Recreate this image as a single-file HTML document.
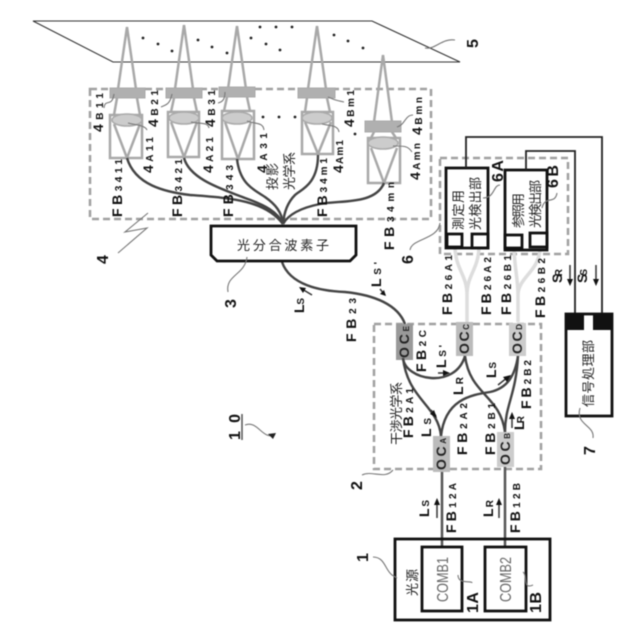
<!DOCTYPE html>
<html><head><meta charset="utf-8"><style>
html,body{margin:0;padding:0;background:#fff}
svg{display:block;filter:blur(0.4px)}
text{font-family:"Liberation Sans","Noto Sans CJK JP",sans-serif;fill:#222}
.l{font-size:14px;font-weight:bold;fill:#111}
.l tspan{font-size:10px;font-weight:bold}
.b{font-size:16px;font-weight:bold;fill:#111}
.j{font-size:13px;fill:#222}
.oc{font-size:14px;font-weight:bold;fill:#222}
.oc tspan{font-size:8px}
.lead{fill:none;stroke:#777;stroke-width:1.1}
.dash{fill:none;stroke:#a0a0a0;stroke-width:2.5;stroke-dasharray:7 4}
.opt{fill:none;stroke:#a8a8a8;stroke-width:2.5}
.fib{fill:none;stroke:#444;stroke-width:2.4}
.pale{fill:none;stroke:#ddd;stroke-width:3.5}
.k{fill:none;stroke:#111;stroke-width:2.8}
.w{fill:none;stroke:#333;stroke-width:1.5}
</style></head><body>
<svg width="640" height="640" viewBox="0 0 640 640" xmlns="http://www.w3.org/2000/svg">
<rect width="640" height="640" fill="#fff"/>
<polygon points="33,21 372,21 460,62 113,62" fill="none" stroke="#333" stroke-width="1.1"/>
<g fill="#222">
<circle cx="143" cy="38" r="1.4"/><circle cx="158" cy="44" r="1.4"/><circle cx="172" cy="51" r="1.4"/><circle cx="198" cy="40" r="1.4"/><circle cx="212" cy="47" r="1.4"/><circle cx="227" cy="53" r="1.4"/><circle cx="251" cy="38" r="1.4"/><circle cx="266" cy="44" r="1.4"/><circle cx="280" cy="50" r="1.4"/><circle cx="260" cy="27" r="1.4"/><circle cx="276" cy="27" r="1.4"/><circle cx="292" cy="27" r="1.4"/><circle cx="334" cy="35" r="1.4"/><circle cx="348" cy="41" r="1.4"/><circle cx="363" cy="48" r="1.4"/><circle cx="263" cy="117" r="1.4"/><circle cx="279" cy="117" r="1.4"/><circle cx="295" cy="117" r="1.4"/><circle cx="355" cy="134" r="1.4"/>
</g>
<rect class="dash" x="90" y="89" width="341" height="130"/>
<rect class="dash" x="374" y="324" width="167" height="145"/>
<rect class="dash" x="440" y="158" width="128" height="96"/>

<!-- lens columns -->
<g class="opt">
<path d="M117,96 L127,27 L137,96"/><path d="M117,98 L114,115M137,98 L140,115"/>
<rect x="110" y="115" width="32" height="43"/><path d="M114,124 L127,158 L140,124"/>
<path d="M174,96 L184,25 L194,96"/><path d="M174,98 L171,112M194,98 L197,112"/>
<rect x="168" y="112" width="31" height="45"/><path d="M171,122 L184,157 L197,122"/>
<path d="M227,96 L237,26 L247,96"/><path d="M227,97 L224,111M247,97 L250,111"/>
<rect x="222" y="111" width="32" height="48"/><path d="M225,122 L238,159 L251,122"/>
<path d="M307,96 L317,26 L327,96"/><path d="M307,98 L305,112M327,98 L330,112"/>
<rect x="302" y="112" width="31" height="42"/><path d="M305,122 L318,154 L331,122"/>
<path d="M374,122 L383,55 L392,122"/><path d="M374,132 L371,138M392,132 L396,138"/>
<rect x="368" y="138" width="32" height="45"/><path d="M371,148 L384,183 L397,148"/>
</g>
<g fill="#b0b0b0" stroke="#aaa">
<rect x="110" y="88" width="35" height="10"/><rect x="166" y="88" width="36" height="10"/><rect x="219" y="87" width="36" height="10"/><rect x="298" y="88" width="37" height="10"/><rect x="365" y="121" width="36" height="11"/>
</g>
<g fill="#ccc" stroke="#aaa" stroke-width="1.5">
<ellipse cx="127" cy="120" rx="15" ry="6"/><ellipse cx="184" cy="118" rx="15" ry="6"/><ellipse cx="237" cy="118" rx="15" ry="6"/><ellipse cx="317" cy="118" rx="15" ry="6"/><ellipse cx="383" cy="143" rx="15" ry="6"/>
</g>

<!-- fibers to splitter -->
<g class="fib">
<path d="M127,158 C135,185 165,192 190,195 C230,198 265,200 283,224"/>
<path d="M184,158 C190,180 225,190 245,198 C265,205 278,212 283,224"/>
<path d="M237,159 C240,185 255,190 265,197 C275,204 282,212 283,224"/>
<path d="M318,155 C318,185 300,190 295,195 C288,202 284,212 283,224"/>
<path d="M384,183 C375,205 340,200 320,204 C300,208 288,215 283,224"/>
<path d="M282,262 C290,285 320,291 345,292 C375,295 398,305 405,324"/>
</g>
<path class="k" d="M211,226 H356 V255 L350,261 H217 L211,255 Z" fill="#fff"/>
<text class="j" x="237" y="250" textLength="92">光分合波素子</text>

<!-- couplers -->
<rect x="396" y="324" width="17" height="36" fill="#999"/>
<rect x="456" y="322" width="17" height="34" fill="#bbb"/>
<rect x="509" y="323" width="17" height="33" fill="#ccc"/>
<rect x="433" y="436" width="17" height="36" fill="#bbb"/>
<rect x="497" y="432" width="17" height="35" fill="#ccc"/>
<g class="fib">
<path d="M441,436 C438,405 408,400 403,358"/>
<path d="M441,436 C445,400 470,395 490,392 C508,388 515,375 518,356"/>
<path d="M403,358 C405,380 455,390 465,356"/>
<path d="M505,432 C500,395 470,395 465,356"/>
<path d="M505,432 C505,405 516,395 518,356"/>
</g>
<path d="M442,472 V547M505,467 V547" fill="none" stroke="#555" stroke-width="2.5"/>

<!-- source -->
<rect class="k" x="395" y="539" width="155" height="81"/>
<rect class="k" x="422" y="547" width="40" height="64" fill="#fff"/>
<rect class="k" x="485" y="547" width="41" height="64" fill="#fff"/>
<text transform="translate(448,602) rotate(-90)" font-size="16" textLength="45" lengthAdjust="spacingAndGlyphs" style="fill:#666">COMB1</text>
<text transform="translate(511,602) rotate(-90)" font-size="16" textLength="45" lengthAdjust="spacingAndGlyphs" style="fill:#666">COMB2</text>
<text class="j" transform="translate(417,596) rotate(-90)" textLength="27">光源</text>

<!-- detectors -->
<path class="pale" d="M455,248 C456,270 467,275 467,295 V322M479,248 C478,270 467,275 467,295"/>
<path class="pale" d="M514,250 C515,270 518,280 518,295 V322M540,250 C538,272 518,278 518,295"/>
<rect class="k" x="446" y="168" width="42" height="80"/>
<rect class="k" x="447" y="234" width="15" height="13"/><rect class="k" x="472" y="234" width="16" height="14"/>
<rect class="k" x="505" y="170" width="42" height="80"/>
<rect class="k" x="505" y="235" width="17" height="13"/><rect class="k" x="530" y="233" width="17" height="14"/>
<path d="M466,168 V137 H602 V315M526,170 V151 H575 V315" fill="none" stroke="#222" stroke-width="1.8"/>
<text class="j" transform="translate(463,230) rotate(-90)" textLength="40">測定用</text>
<text class="j" transform="translate(480,230) rotate(-90)" textLength="53">光検出部</text>
<text class="j" transform="translate(523,228) rotate(-90)" textLength="35">参照用</text>
<text class="j" transform="translate(540,228) rotate(-90)" textLength="48">光検出部</text>

<!-- signal processor -->
<rect class="k" x="566" y="314" width="46" height="102"/>
<rect x="566" y="314" width="18" height="16" fill="#111"/><rect x="593" y="314" width="19" height="16" fill="#111"/>
<text class="j" transform="translate(593,407) rotate(-90)" textLength="67">信号処理部</text>

<!-- leaders -->
<g class="lead">
<path d="M425,48 C435,50 442,38 455,40"/>
<path d="M118,253 L147,228 L125,232 L148,213"/>
<path d="M247,257 C245,275 225,275 228,292"/>
<path d="M410,250 C412,238 438,240 440,223"/>
<path d="M393,470 C385,480 372,470 362,475"/>
<path d="M373,557 C385,557 385,570 392,575 L397,578"/>
<path d="M458,575 C458,585 472,580 472,583"/>
<path d="M523,572 C528,575 522,590 533,585"/>
<path d="M483,198 C495,198 493,185 500,185"/>
<path d="M542,208 C545,195 555,205 557,193"/>
<path d="M580,408 C575,425 595,425 593,438"/>
<path d="M114,94 C112,108 105,98 104,108"/>
<path d="M172,94 C170,105 165,105 161,107"/>
<path d="M225,92 C225,100 222,102 218,103"/>
<path d="M328,97 C335,100 335,100 344,102"/>
<path d="M128,123 C135,125 145,125 147,130"/>
<path d="M191,122 C200,124 208,122 209,128"/>
<path d="M247,121 C255,124 263,122 264,130"/>
<path d="M322,124 C330,126 338,125 339,132"/>
<path d="M393,146 C405,146 408,146 412,152"/>
<path d="M397,127 C405,125 405,115 413,115"/>
</g>
<path d="M242,414 V440" stroke="#555" stroke-width="1.5"/>
<path class="lead" d="M245,425 C258,420 262,440 275,435" stroke-width="1.3"/>
<polygon points="276,433 268,434 273,439" fill="#222"/>

<!-- arrows -->
<g class="w">
<path d="M437,518 V501"/><path d="M499,518 V501"/>
<path d="M570,265 V283"/><path d="M596,265 V283"/>
<path d="M512,428 V415"/>
<path d="M498,385 L508,377"/>
<path d="M438,373 H446"/>
<path d="M312,295 L302,289"/>
<path d="M380,289 L385,295"/>
<path d="M431,410 L436,416"/>
</g>
<g fill="#111">
<polygon points="437,498 434,505 440,505"/><polygon points="499,498 496,505 502,505"/>
<polygon points="570,286 567,279 573,279"/><polygon points="596,286 593,279 599,279"/>
<polygon points="512,412 509,419 515,419"/>
<polygon points="511,375 503,377 507,382"/>
<polygon points="450,373 443,370 443,376"/>
<polygon points="299,287 306,288 303,293"/>
<polygon points="386,296 380,294 384,290"/>
<polygon points="437,418 430,414 434,410"/>
</g>

<!-- coupler labels -->
<text class="oc" transform="translate(409,358) rotate(-90)" textLength="32">OC<tspan>E</tspan></text>
<text class="oc" transform="translate(469,354) rotate(-90)" textLength="30">OC<tspan>C</tspan></text>
<text class="oc" transform="translate(522,354) rotate(-90)" textLength="30">OC<tspan>D</tspan></text>
<text class="oc" transform="translate(446,470) rotate(-90)" textLength="32">OC<tspan>A</tspan></text>
<text class="oc" transform="translate(510,465) rotate(-90)" textLength="32">OC<tspan>B</tspan></text>

<!-- fibre labels -->
<text class="l" transform="translate(122,217) rotate(-90)" textLength="58">FB<tspan>3411</tspan></text>
<text class="l" transform="translate(182,217) rotate(-90)" textLength="58">FB<tspan>3421</tspan></text>
<text class="l" transform="translate(233,217) rotate(-90)" textLength="52">FB<tspan>343</tspan></text>
<text class="l" transform="translate(327,217) rotate(-90)" textLength="59">FB<tspan>34m1</tspan></text>
<text class="l" transform="translate(394,250) rotate(-90)" textLength="68">FB<tspan>34mn</tspan></text>
<text class="l" transform="translate(103,132) rotate(-90)" textLength="39">4<tspan>B11</tspan></text>
<text class="l" transform="translate(153,173) rotate(-90)" textLength="36">4<tspan>A11</tspan></text>
<text class="l" transform="translate(158,127) rotate(-90)" textLength="37">4<tspan>B21</tspan></text>
<text class="l" transform="translate(213,173) rotate(-90)" textLength="36">4<tspan>A21</tspan></text>
<text class="l" transform="translate(215,127) rotate(-90)" textLength="37">4<tspan>B31</tspan></text>
<text class="l" transform="translate(267,173) rotate(-90)" textLength="40">4<tspan>A31</tspan></text>
<text class="l" transform="translate(354,127) rotate(-90)" textLength="37">4<tspan>Bm1</tspan></text>
<text class="l" transform="translate(343,173) rotate(-90)" textLength="33">4<tspan>Am1</tspan></text>
<text class="l" transform="translate(420,180) rotate(-90)" textLength="37">4<tspan>Amn</tspan></text>
<text class="l" transform="translate(422,135) rotate(-90)" textLength="38">4<tspan>Bmn</tspan></text>
<text class="j" transform="translate(277,190) rotate(-90)" textLength="27">投影</text>
<text class="j" transform="translate(294,190) rotate(-90)" textLength="38">光学系</text>
<text class="j" transform="translate(401,445) rotate(-90)" textLength="63">干渉光学系</text>
<text class="l" transform="translate(356,342) rotate(-90)" textLength="44">FB<tspan>23</tspan></text>
<text class="l" transform="translate(426,372) rotate(-90)" textLength="42">FB<tspan>2C</tspan></text>
<text class="l" transform="translate(531,409) rotate(-90)" textLength="49">FB<tspan>2B2</tspan></text>
<text class="l" transform="translate(495,455) rotate(-90)" textLength="52">FB<tspan>2B1</tspan></text>
<text class="l" transform="translate(467,455) rotate(-90)" textLength="52">FB<tspan>2A2</tspan></text>
<text class="l" transform="translate(413,438) rotate(-90)" textLength="50">FB<tspan>2A1</tspan></text>
<text class="l" transform="translate(456,533) rotate(-90)" textLength="50">FB<tspan>12A</tspan></text>
<text class="l" transform="translate(520,533) rotate(-90)" textLength="50">FB<tspan>12B</tspan></text>
<text class="l" transform="translate(452,315) rotate(-90)" textLength="60">FB<tspan>26A1</tspan></text>
<text class="l" transform="translate(491,315) rotate(-90)" textLength="58">FB<tspan>26A2</tspan></text>
<text class="l" transform="translate(511,315) rotate(-90)" textLength="60">FB<tspan>26B1</tspan></text>
<text class="l" transform="translate(545,318) rotate(-90)" textLength="60">FB<tspan>26B2</tspan></text>
<text class="l" transform="translate(304,313) rotate(-90)" textLength="15">L<tspan>S</tspan></text>
<text class="l" transform="translate(381,287) rotate(-90)" textLength="25">L<tspan>S'</tspan></text>
<text class="l" transform="translate(446,368) rotate(-90)" textLength="23">L<tspan>S'</tspan></text>
<text class="l" transform="translate(463,395) rotate(-90)" textLength="18">L<tspan>R</tspan></text>
<text class="l" transform="translate(496,378) rotate(-90)" textLength="16">L<tspan>S</tspan></text>
<text class="l" transform="translate(524,430) rotate(-90)" textLength="14">L<tspan>R</tspan></text>
<text class="l" transform="translate(431,437) rotate(-90)" textLength="19">L<tspan>S</tspan></text>
<text class="l" transform="translate(429,517) rotate(-90)" textLength="17">L<tspan>S</tspan></text>
<text class="l" transform="translate(493,517) rotate(-90)" textLength="17">L<tspan>R</tspan></text>
<text class="l" transform="translate(562,283) rotate(-90)" textLength="14">S<tspan>R</tspan></text>
<text class="l" transform="translate(587,283) rotate(-90)" textLength="14">S<tspan>S</tspan></text>

<!-- numbers -->
<text class="b" transform="translate(478,48) rotate(-90)">5</text>
<text class="b" transform="translate(108,264) rotate(-90)">4</text>
<text class="b" transform="translate(236,308) rotate(-90)">3</text>
<text class="b" transform="translate(413,264) rotate(-90)">6</text>
<text class="b" transform="translate(362,490) rotate(-90)">2</text>
<text class="b" transform="translate(368,562) rotate(-90)">1</text>
<text class="b" transform="translate(595,455) rotate(-90)">7</text>
<text class="b" transform="translate(240,440) rotate(-90)" textLength="26">10</text>
<text class="b" transform="translate(478,613) rotate(-90)" textLength="21">1A</text>
<text class="b" transform="translate(541,613) rotate(-90)" textLength="21">1B</text>
<text class="b" transform="translate(503,182) rotate(-90)" textLength="22">6A</text>
<text class="b" transform="translate(558,188) rotate(-90)" textLength="23">6B</text>
</svg>
</body></html>
